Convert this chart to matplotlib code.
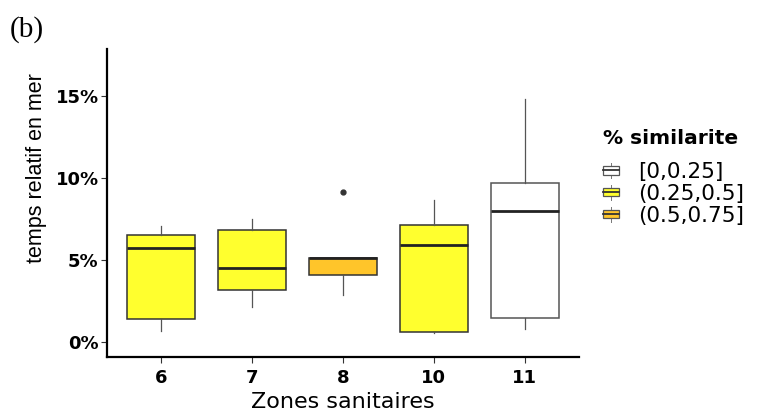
import numpy as np
import matplotlib
matplotlib.use("Agg")
import matplotlib.pyplot as plt
from matplotlib.patches import Patch, Rectangle
from matplotlib.lines import Line2D
from matplotlib.legend_handler import HandlerBase
from matplotlib.ticker import FuncFormatter

plt.rcParams['font.family'] = ['DejaVu Sans']

# data (% of time at sea)
zones = ['6', '7', '8', '10', '11']
whislo = [0.67, 2.15, 2.87, 0.55, 0.79]
q1 = [1.38, 3.17, 4.09, 0.59, 1.44]
med = [5.75, 4.53, 5.12, 5.91, 8.01]
q3 = [6.52, 6.85, 5.12, 7.15, 9.70]
whishi = [7.07, 7.50, 5.12, 8.66, 14.8]
outliers = [[], [], [9.16], [], []]
groups = ['(0.25,0.5]', '(0.25,0.5]', '(0.5,0.75]', '(0.25,0.5]', '[0,0.25]']

legend_labels = ['[0,0.25]', '(0.25,0.5]', '(0.5,0.75]']
colors = {'[0,0.25]': 'white', '(0.25,0.5]': '#FFFF2E', '(0.5,0.75]': '#FFC52A'}

stats = []
for i in range(len(zones)):
    stats.append(dict(whislo=whislo[i], q1=q1[i], med=med[i], q3=q3[i],
                      whishi=whishi[i], fliers=outliers[i]))

fig = plt.figure(figsize=(7.57, 4.12), dpi=100)
ax = fig.add_axes([0.1413, 0.1335, 0.6236, 0.7475])

pos = np.arange(1, len(zones) + 1)
bp = ax.bxp(stats, positions=pos, widths=0.75, patch_artist=True, showcaps=False,
            boxprops=dict(edgecolor='#333333', linewidth=1.1),
            medianprops=dict(color='#222222', linewidth=2.0),
            whiskerprops=dict(color='#555555', linewidth=0.9),
            flierprops=dict(marker='o', markersize=3.5, markerfacecolor='#333333',
                            markeredgecolor='#333333'))
for box, g in zip(bp['boxes'], groups):
    box.set_facecolor(colors[g])
    if g == '[0,0.25]':
        box.set_edgecolor('#555555')

ax.set_xlim(0.4, len(zones) + 0.6)
ax.set_ylim(-0.91, 17.87)
ax.set_xticks(pos)
ax.set_xticklabels(zones, fontsize=13, fontweight='bold')
ax.set_yticks([0, 5, 10, 15])
ax.yaxis.set_major_formatter(FuncFormatter(lambda v, p: '%d%%' % v))
for t in ax.get_yticklabels():
    t.set_fontweight('bold')
    t.set_fontsize(13)
ax.tick_params(length=4, width=0.8, color='#333333')
ax.tick_params(axis='x', pad=5)
ax.tick_params(axis='y', pad=2)
for s in ['top', 'right']:
    ax.spines[s].set_visible(False)
for s in ['left', 'bottom']:
    ax.spines[s].set_linewidth(1.6)
ax.set_xlabel('Zones sanitaires', fontsize=16, labelpad=3)
ax.set_ylabel('temps relatif en mer', family='Liberation Sans', fontsize=15.5, va='center')
ax.yaxis.set_label_coords(-0.150, 0.614)


class BoxHandler(HandlerBase):
    def create_artists(self, legend, orig_handle, xdescent, ydescent, width, height, fontsize, trans):
        cx = width / 2 - xdescent
        r = Rectangle((-xdescent, -ydescent + height * 0.2), width, height * 0.6,
                      facecolor=orig_handle.get_facecolor(), edgecolor='#555555',
                      linewidth=0.9, transform=trans)
        m = Line2D([-xdescent, width - xdescent], [height / 2 - ydescent] * 2,
                   color='#333333', linewidth=1.3, transform=trans)
        w1 = Line2D([cx, cx], [-ydescent - height * 0.05, -ydescent + height * 0.2],
                    color='#777777', linewidth=0.7, transform=trans)
        w2 = Line2D([cx, cx], [-ydescent + height * 0.8, -ydescent + height * 1.05],
                    color='#777777', linewidth=0.7, transform=trans)
        return [w1, w2, r, m]


handles = [Patch(facecolor=colors[l]) for l in legend_labels]
fig.legend(handles, legend_labels, handler_map={Patch: BoxHandler()},
           loc='upper left', bbox_to_anchor=(0.7966, 0.6068), borderaxespad=0,
           frameon=False, fontsize=15.5, handlelength=0.75, handleheight=0.6,
           handletextpad=0.9, labelspacing=0.09, borderpad=0)
fig.text(0.7966, 1 - 138 / 412, '% similarite', fontsize=14.5, fontweight='bold',
         va='center', ha='left')

fig.text(0.013, 1 - 37 / 412, '(b)', family='Liberation Serif', fontsize=21,
         va='baseline')

plt.savefig('out.png', dpi=100)
